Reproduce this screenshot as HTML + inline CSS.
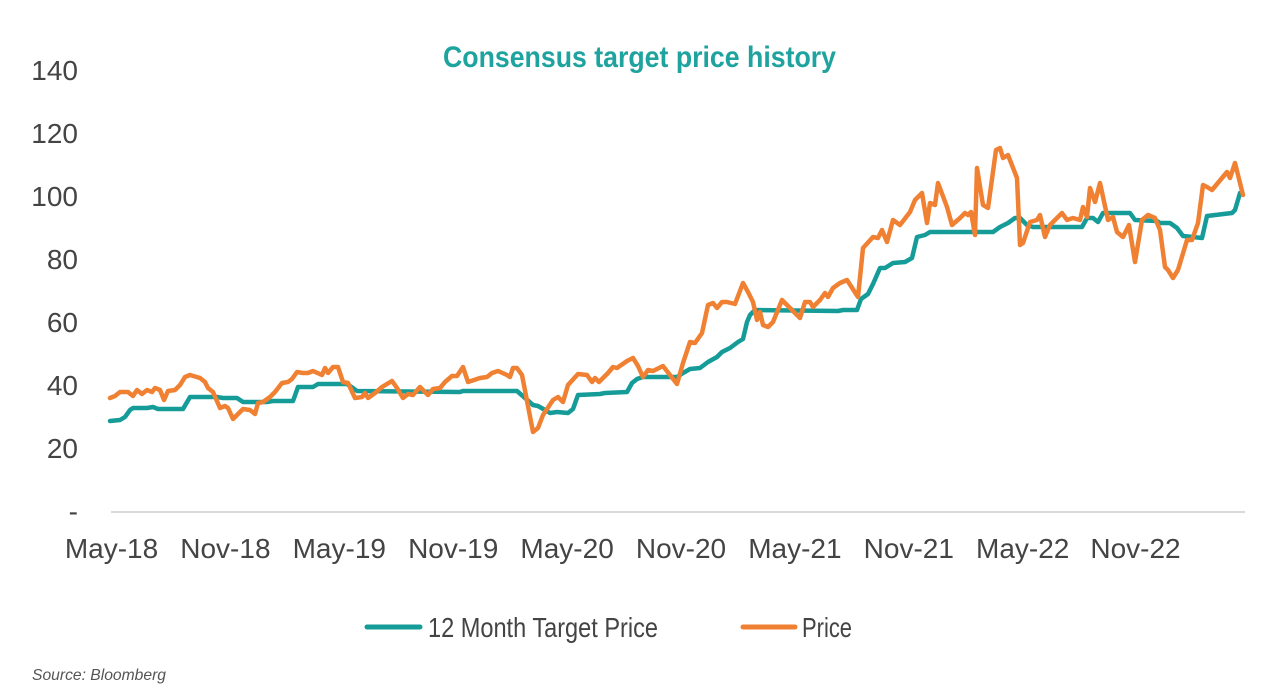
<!DOCTYPE html>
<html>
<head>
<meta charset="utf-8">
<style>
  html,body{margin:0;padding:0;background:#fff;}
  svg{display:block;}
  text{font-family:"Liberation Sans",Arial,sans-serif;}
</style>
</head>
<body>
<svg width="1280" height="700" viewBox="0 0 1280 700" xmlns="http://www.w3.org/2000/svg">
  <rect width="1280" height="700" fill="#ffffff"/>
  <!-- Title -->
  <text x="443" y="67" font-size="30" font-weight="bold" fill="#1fa39e" textLength="393" lengthAdjust="spacingAndGlyphs">Consensus target price history</text>

  <!-- Y axis labels -->
  <g font-size="28" fill="#444" text-anchor="end">
    <text x="78" y="80">140</text>
    <text x="78" y="143">120</text>
    <text x="78" y="206">100</text>
    <text x="78" y="269">80</text>
    <text x="78" y="332">60</text>
    <text x="78" y="395">40</text>
    <text x="78" y="458">20</text>
    <text x="78" y="521">-</text>
  </g>

  <!-- X axis line -->
  <line x1="111" y1="512" x2="1245" y2="512" stroke="#d9d9d9" stroke-width="2"/>

  <!-- X axis labels -->
  <g font-size="28" fill="#444" text-anchor="middle">
    <text x="111.5" y="558">May-18</text>
    <text x="225.4" y="558">Nov-18</text>
    <text x="339.3" y="558">May-19</text>
    <text x="453.2" y="558">Nov-19</text>
    <text x="567.1" y="558">May-20</text>
    <text x="681" y="558">Nov-20</text>
    <text x="794.9" y="558">May-21</text>
    <text x="908.8" y="558">Nov-21</text>
    <text x="1022.7" y="558">May-22</text>
    <text x="1135.5" y="558">Nov-22</text>
  </g>

  <!-- 12 Month Target Price (teal) -->
  <polyline fill="none" stroke="#169c98" stroke-width="4.5" stroke-linejoin="round" stroke-linecap="round"
    points="110,421 120,420 125,417 130,410 133,408 147,408 153,407 158,409 183,409 190,397 217,397 223,398 237,398 243,402 257,402 267,402 273,401 293,401 298,387 313,387 318,384 347,384 353,388 357,391 460,392 463,391 517,391 525,398 533,405 538,406 545,410 550,413 557,412 568,413 573,409 578,395 600,394 605,393 627,392 632,383 637,379 643,377 677,377 683,373 690,369 700,368 708,362 717,357 722,352 730,348 738,342 743,339 747,322 750,315 755,310 838,311 843,310 857,310 861,299 868,294 873,284 880,268 885,268 893,263 905,262 912,258 917,237 925,235 930,232 993,232 1000,227 1008,223 1015,218 1020,218 1027,225 1033,227 1082,227 1087,218 1093,218 1098,222 1103,213 1130,213 1135,220 1157,221 1160,223 1170,223 1177,228 1183,236 1193,237 1202,238 1207,216 1232,213 1235,210 1240,193"/>

  <!-- Price (orange) -->
  <polyline fill="none" stroke="#f08032" stroke-width="4.5" stroke-linejoin="round" stroke-linecap="round"
    points="110,398 115,396 120,392 128,392 133,396 137,390 142,394 147,390 152,392 155,388 160,390 164,400 168,391 175,390 180,385 185,377 190,375 200,378 205,382 208,388 213,392 220,408 225,406 228,408 233,419 238,414 243,409 250,410 255,414 258,403 263,402 270,397 275,392 282,383 288,382 292,379 297,372 303,373 308,373 313,371 322,375 325,368 328,373 333,367 338,367 343,382 348,383 355,398 362,397 365,393 368,398 375,393 382,387 392,381 397,388 403,398 408,394 413,395 420,387 428,395 433,389 440,388 445,382 452,376 457,376 463,367 468,382 480,378 487,377 492,373 498,371 507,375 510,377 513,368 517,368 522,375 533,432 538,428 543,415 553,400 558,397 563,402 568,385 578,374 587,375 592,382 595,378 599,382 608,373 613,367 617,368 627,361 633,358 638,366 643,377 648,370 653,371 663,366 677,384 683,363 690,342 695,343 702,333 708,305 713,303 717,308 722,302 727,302 735,304 743,283 748,292 753,302 757,320 760,312 763,325 768,327 773,322 782,300 787,305 800,318 805,302 810,302 813,307 820,300 825,293 828,297 833,288 840,283 847,280 858,297 863,248 873,237 878,238 882,230 887,242 893,220 900,225 910,212 915,200 922,193 927,223 930,203 935,205 938,183 947,207 952,225 960,218 965,213 968,215 971,212 975,235 977,168 983,205 988,208 996,150 1000,148 1003,158 1008,155 1017,178 1020,245 1023,243 1030,222 1037,220 1040,215 1045,237 1050,225 1062,213 1067,220 1073,218 1080,220 1083,207 1087,217 1090,188 1095,202 1100,183 1108,220 1113,217 1117,232 1123,237 1129,225 1135,262 1142,220 1148,215 1155,218 1160,230 1165,267 1168,270 1173,278 1178,270 1187,240 1192,240 1198,223 1203,185 1207,187 1212,190 1227,172 1230,178 1235,163 1243,195"/>

  <!-- Legend -->
  <line x1="367" y1="627" x2="420" y2="627" stroke="#169c98" stroke-width="5" stroke-linecap="round"/>
  <text x="428" y="637" font-size="28" fill="#444" textLength="230" lengthAdjust="spacingAndGlyphs">12 Month Target Price</text>
  <line x1="743" y1="627" x2="795" y2="627" stroke="#f08032" stroke-width="5" stroke-linecap="round"/>
  <text x="802" y="637" font-size="28" fill="#444" textLength="50" lengthAdjust="spacingAndGlyphs">Price</text>

  <!-- Source -->
  <text x="32" y="680" font-size="16" font-style="italic" fill="#555" textLength="134" lengthAdjust="spacingAndGlyphs">Source: Bloomberg</text>
</svg>
</body>
</html>
